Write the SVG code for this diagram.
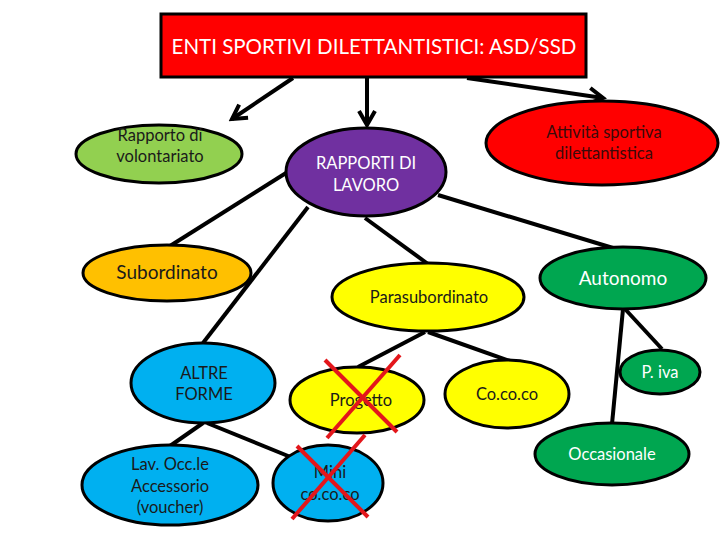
<svg xmlns="http://www.w3.org/2000/svg" width="720" height="540" viewBox="0 0 720 540">
<style>
.n{stroke:#000;stroke-width:3}
.t{font-family:Lato,"Liberation Sans",sans-serif;text-anchor:middle;font-size:16.5px;fill:#1a1a1a}
.b{font-size:19px}
.w{fill:#fff}
.c line{stroke:#000;stroke-width:4}
.x line{stroke:#e3161b;stroke-width:4}
</style>
<defs>
<marker id="ah" viewBox="0 0 10 10" refX="8" refY="5" markerWidth="5" markerHeight="5" orient="auto" markerUnits="strokeWidth">
<path d="M1,1 L8,5 L1,9" fill="none" stroke="#000" stroke-width="2"/>
</marker>
</defs>
<rect width="720" height="540" fill="#fff"/>
<g id="connectors" class="c">
<line x1="293" y1="78" x2="232" y2="119" marker-end="url(#ah)"/>
<line x1="367" y1="78" x2="367" y2="125" marker-end="url(#ah)"/>
<line x1="467" y1="78" x2="603" y2="98" marker-end="url(#ah)"/>
<line x1="286" y1="173" x2="170" y2="246"/>
<line x1="308" y1="207" x2="203" y2="343"/>
<line x1="365" y1="218" x2="428" y2="264"/>
<line x1="438" y1="195" x2="613" y2="248"/>
<line x1="425" y1="332" x2="358" y2="367"/>
<line x1="428" y1="332" x2="510" y2="361"/>
<line x1="625" y1="309" x2="662" y2="349"/>
<line x1="623" y1="309" x2="612" y2="424"/>
<line x1="203" y1="423" x2="170" y2="446"/>
<line x1="207" y1="423" x2="293" y2="458"/>
</g>
<g id="root">
<rect x="161" y="14" width="425" height="63" fill="#ff0000" class="n"/>
<text x="374" y="54" class="t w" style="font-size:20.5px">ENTI SPORTIVI DILETTANTISTICI: ASD/SSD</text>
</g>
<g id="volontariato">
<ellipse cx="159" cy="154" rx="83" ry="29" fill="#92d050" class="n"/>
<text x="160" y="141" class="t">Rapporto di</text>
<text x="160" y="162" class="t">volontariato</text>
</g>
<g id="lavoro">
<ellipse cx="366" cy="172" rx="80" ry="44" fill="#7030a0" class="n"/>
<text x="366" y="169" class="t w">RAPPORTI DI</text>
<text x="366" y="191" class="t w">LAVORO</text>
</g>
<g id="attivita">
<ellipse cx="602" cy="143" rx="116" ry="42" fill="#ff0000" class="n"/>
<text x="604" y="138" class="t" style="fill:#3b0a0a">Attività sportiva</text>
<text x="604" y="159" class="t" style="fill:#3b0a0a">dilettantistica</text>
</g>
<g id="subordinato">
<ellipse cx="167" cy="273" rx="84" ry="28" fill="#ffc000" class="n"/>
<text x="167" y="279" class="t b">Subordinato</text>
</g>
<g id="parasubordinato">
<ellipse cx="428" cy="297" rx="96" ry="34" fill="#ffff00" class="n"/>
<text x="429" y="303" class="t">Parasubordinato</text>
</g>
<g id="autonomo">
<ellipse cx="623" cy="278" rx="83" ry="31" fill="#00a650" class="n"/>
<text x="623" y="285" class="t w b">Autonomo</text>
</g>
<g id="altre">
<ellipse cx="203" cy="383" rx="72" ry="40" fill="#00b0f0" class="n"/>
<text x="204" y="379" class="t">ALTRE</text>
<text x="204" y="400" class="t">FORME</text>
</g>
<g id="voucher">
<ellipse cx="170" cy="485" rx="88" ry="40" fill="#00b0f0" class="n"/>
<text x="170" y="470" class="t">Lav. Occ.le</text>
<text x="170" y="492" class="t">Accessorio</text>
<text x="170" y="513" class="t">(voucher)</text>
</g>
<g id="progetto">
<ellipse cx="357" cy="400" rx="67" ry="33" fill="#ffff00" class="n"/>
<text x="361" y="406" class="t">Progetto</text>
</g>
<g id="mini">
<ellipse cx="328" cy="483" rx="55" ry="38" fill="#00b0f0" class="n"/>
<text x="330" y="478" class="t">Mini</text>
<text x="330" y="500" class="t">co.co.co</text>
</g>
<g id="cococo">
<ellipse cx="507" cy="394" rx="62" ry="34" fill="#ffff00" class="n"/>
<text x="507" y="400" class="t">Co.co.co</text>
</g>
<g id="piva">
<ellipse cx="660" cy="372" rx="40" ry="22" fill="#00a650" class="n"/>
<text x="660" y="378" class="t w">P. iva</text>
</g>
<g id="occasionale">
<ellipse cx="612" cy="454" rx="77" ry="31" fill="#00a650" class="n"/>
<text x="612" y="460" class="t w">Occasionale</text>
</g>
<g id="crosses" class="x">
<line x1="325" y1="360" x2="397" y2="432"/>
<line x1="400" y1="355" x2="327" y2="438"/>
<line x1="297" y1="446" x2="368" y2="517"/>
<line x1="365" y1="435" x2="292" y2="519"/>
</g>
</svg>
